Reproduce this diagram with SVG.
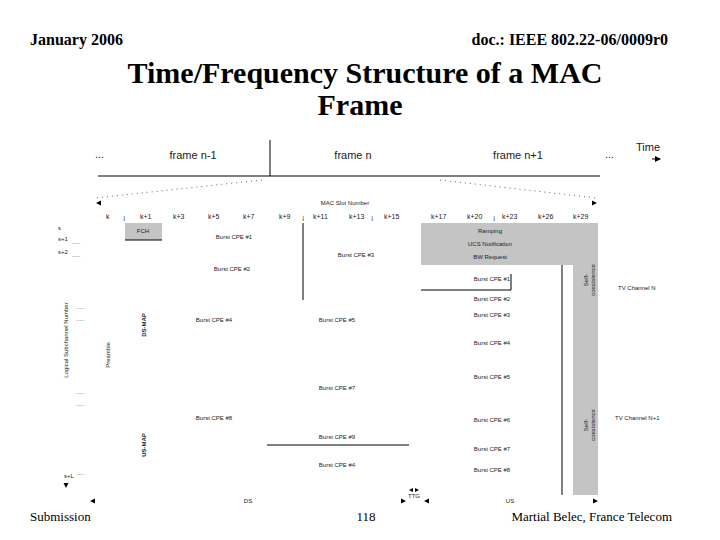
<svg xmlns="http://www.w3.org/2000/svg" width="720" height="540" viewBox="0 0 720 540">
<style>
.h{font-family:"Liberation Serif",serif;font-weight:bold;font-size:16px}
.t{font-family:"Liberation Serif",serif;font-weight:bold;font-size:30px}
.f{font-family:"Liberation Serif",serif;font-size:13px}
.s{font-family:"Liberation Sans",sans-serif;font-size:7px;fill:#222}
.m{font-family:"Liberation Sans",sans-serif;font-size:11px;fill:#222}
.b{font-family:"Liberation Sans",sans-serif;font-size:6px;fill:#222}
.ln{stroke:#000;stroke-width:1;fill:none}
.d{stroke:#666;stroke-width:1;stroke-dasharray:1 4;fill:none}
.gr{fill:#c4c4c4}
</style>
<defs><marker id="a" markerWidth="6" markerHeight="6" refX="5" refY="3" orient="auto"><path d="M0,0L6,3L0,6z" fill="#000"/></marker></defs>
<rect width="720" height="540" fill="#fff"/>
<g id="header">
<text class="h" x="30" y="45">January 2006</text>
<text class="h" x="668" y="45" text-anchor="end">doc.: IEEE 802.22-06/0009r0</text>
<text class="t" x="365" y="83" text-anchor="middle">Time/Frequency Structure of a MAC</text>
<text class="t" x="360" y="115" text-anchor="middle">Frame</text>
</g>
<g id="timeline">
<line class="ln" x1="98" y1="176" x2="600" y2="176"/>
<line class="ln" x1="270" y1="140" x2="270" y2="176"/>
<text class="m" x="95" y="158">...</text>
<text class="m" x="193" y="159" text-anchor="middle">frame n-1</text>
<text class="m" x="353" y="159" text-anchor="middle">frame n</text>
<text class="m" x="518" y="159" text-anchor="middle">frame n+1</text>
<text class="m" x="605" y="158">...</text>
<text class="m" x="636" y="151">Time</text>
<line class="ln" x1="652" y1="159" x2="660" y2="159" marker-end="url(#a)"/>
</g>
<g id="connectors">
<path class="d" d="M262,180L95,198"/>
<path class="d" d="M440,180L596,198"/>
<line class="ln" x1="345" y1="203" x2="92" y2="203" stroke-opacity="0" />
<path d="M96,203l5,-2.5v5z" fill="#000"/><path d="M597,203l-5,-2.5v5z" fill="#000"/>
<text class="b" x="345" y="205" text-anchor="middle">MAC Slot Number</text>
<line class="ln" x1="303" y1="223" x2="303" y2="300"/>
<line class="ln" x1="562" y1="223" x2="562" y2="495"/>
<polyline class="ln" points="421,290 511,290 511,274"/>
<line class="ln" x1="267" y1="445" x2="409" y2="445"/>
<path d="M66,488l-2.5,-5h5z" fill="#000"/>
<path d="M90,501l5,-2.5v5z" fill="#000"/><path d="M406,501l-5,-2.5v5z" fill="#000"/>
<path d="M424,501l5,-2.5v5z" fill="#000"/><path d="M598,501l-5,-2.5v5z" fill="#000"/>
<path d="M409,490l4,-2v4z" fill="#000"/><path d="M419,490l-4,-2v4z" fill="#000"/>
</g>
<g id="slots" class="s">
<text x="106" y="219">k</text><text x="140" y="219">k+1</text><text x="173" y="219">k+3</text><text x="208" y="219">k+5</text><text x="243" y="219">k+7</text><text x="279" y="219">k+9</text><text x="313" y="219">k+11</text><text x="349" y="219">k+13</text><text x="384" y="219">k+15</text><text x="431" y="219">k+17</text><text x="467" y="219">k+20</text><text x="502" y="219">k+23</text><text x="538" y="219">k+26</text><text x="573" y="219">k+29</text>
<text x="123" y="220">¡</text><text x="302" y="220">¡</text><text x="371" y="220">¡</text><text x="493" y="220">¡</text>
</g>
<g id="fch"><rect class="gr" x="125" y="223" width="37" height="17"/><line class="ln" x1="125" y1="240" x2="162" y2="240"/><text class="b" x="143" y="233" text-anchor="middle">FCH</text></g>
<g id="contention"><rect class="gr" x="421" y="223" width="177" height="42"/><rect class="gr" x="573" y="223" width="25" height="272"/>
<text class="b" x="490" y="233" text-anchor="middle">Ramping</text><text class="b" x="490" y="246" text-anchor="middle">UCS Notification</text><text class="b" x="490" y="259" text-anchor="middle">BW Request</text>
<text class="b" transform="translate(588,280) rotate(-90)" text-anchor="middle">Self-</text><text class="b" transform="translate(595,280) rotate(-90)" text-anchor="middle">coexistence</text>
<text class="b" transform="translate(588,425) rotate(-90)" text-anchor="middle">Self-</text><text class="b" transform="translate(595,425) rotate(-90)" text-anchor="middle">coexistence</text></g>
<g id="axis" class="b">
<text x="58" y="230">s</text><text x="58" y="241">s+1</text><text x="58" y="254">s+2</text><text x="64" y="478">s+L</text>
<text x="72" y="244">.....</text><text x="72" y="257">.....</text><text x="76" y="309">.....</text><text x="76" y="321">.....</text><text x="76" y="394">.....</text><text x="76" y="406">.....</text><text x="76" y="475">.....</text>
<text transform="translate(68,340) rotate(-90)" text-anchor="middle">Logical Subchannel Number</text>
<text transform="translate(110,355) rotate(-90)" text-anchor="middle">Preamble</text>
<text transform="translate(146,325) rotate(-90)" text-anchor="middle" font-weight="bold">DS-MAP</text>
<text transform="translate(146,445) rotate(-90)" text-anchor="middle" font-weight="bold">US-MAP</text>
</g>
<g id="bursts" class="b">
<text x="234" y="239" text-anchor="middle">Burst CPE #1</text><text x="232" y="271" text-anchor="middle">Burst CPE #2</text><text x="356" y="257" text-anchor="middle">Burst CPE #3</text>
<text x="214" y="322" text-anchor="middle">Burst CPE #4</text><text x="337" y="322" text-anchor="middle">Burst CPE #5</text><text x="337" y="390" text-anchor="middle">Burst CPE #7</text>
<text x="214" y="420" text-anchor="middle">Burst CPE #8</text><text x="337" y="439" text-anchor="middle">Burst CPE #9</text><text x="337" y="467" text-anchor="middle">Burst CPE #4</text>
<text x="492" y="281" text-anchor="middle">Burst CPE #1</text><text x="492" y="301" text-anchor="middle">Burst CPE #2</text><text x="492" y="317" text-anchor="middle">Burst CPE #3</text><text x="492" y="345" text-anchor="middle">Burst CPE #4</text><text x="492" y="379" text-anchor="middle">Burst CPE #5</text><text x="492" y="422" text-anchor="middle">Burst CPE #6</text><text x="492" y="451" text-anchor="middle">Burst CPE #7</text><text x="492" y="472" text-anchor="middle">Burst CPE #8</text>
<text x="618" y="290">TV Channel N</text><text x="615" y="420">TV Channel N+1</text>
<text x="248" y="503" text-anchor="middle">DS</text><text x="414" y="498" text-anchor="middle">TTG</text><text x="510" y="503" text-anchor="middle">US</text>
</g>
<g id="footer">
<text class="f" x="30" y="521">Submission</text><text class="f" x="366" y="521" text-anchor="middle">118</text><text class="f" x="672" y="521" text-anchor="end">Martial Belec, France Telecom</text>
</g>
</svg>
